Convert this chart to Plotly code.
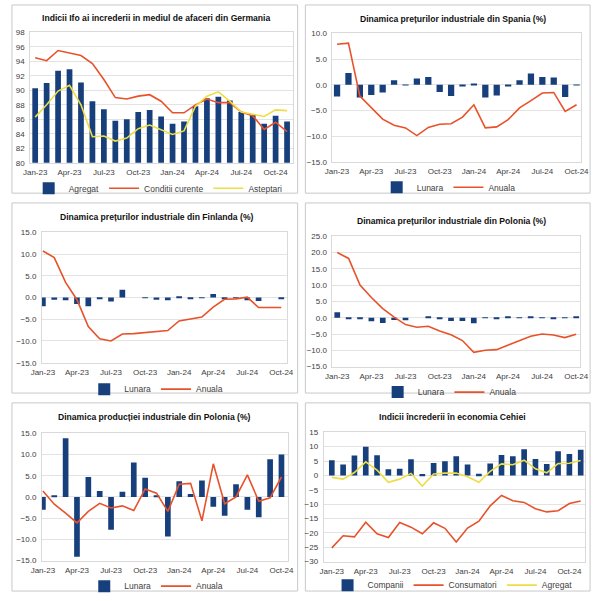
import plotly.graph_objects as go

# ---------------- data ----------------
months = ["Jan-23", "Feb-23", "Mar-23", "Apr-23", "May-23", "Jun-23", "Jul-23", "Aug-23",
          "Sep-23", "Oct-23", "Nov-23", "Dec-23", "Jan-24", "Feb-24", "Mar-24", "Apr-24",
          "May-24", "Jun-24", "Jul-24", "Aug-24", "Sep-24", "Oct-24", "Nov-24"]
tick_months = ["Jan-23", "Apr-23", "Jul-23", "Oct-23", "Jan-24", "Apr-24", "Jul-24", "Oct-24"]

# Germany Ifo (Jan-23 .. Nov-24)
de_agregat = [90.3, 91.0, 92.7, 92.9, 91.1, 88.5, 87.4, 85.8, 86.0, 87.0, 87.3, 86.4,
              85.4, 85.7, 87.8, 88.9, 89.1, 88.6, 87.0, 86.6, 85.4, 86.5, 85.7]
de_conditii = [94.5, 94.1, 95.5, 95.1, 94.8, 93.7, 91.5, 89.0, 88.8, 89.2, 89.4, 88.5,
               86.9, 86.9, 88.0, 88.8, 88.3, 88.3, 87.0, 86.5, 84.6, 85.6, 84.3]
de_asteptari = [86.3, 88.0, 89.9, 90.7, 88.0, 83.6, 83.7, 83.0, 83.4, 84.7, 85.2, 84.5,
                83.9, 84.4, 87.8, 89.2, 89.8, 88.5, 87.0, 86.7, 86.4, 87.3, 87.2]

# Spain PPI (Jan-23 .. Oct-24)
es_lunara = [-2.3, 2.3, -2.5, -2.0, -1.5, 0.9, -0.1, 1.2, 1.5, -1.4, -2.2, -0.2,
             0.1, -2.5, -2.1, -0.2, 0.9, 2.2, 1.5, 1.4, -2.4, -0.1]
es_anuala = [7.9, 8.1, -2.2, -4.5, -6.7, -7.9, -8.4, -9.9, -8.3, -7.7, -7.6, -6.3,
             -3.9, -8.4, -8.2, -6.8, -4.5, -3.1, -1.6, -1.5, -5.2, -3.9]

# Finland PPI (Jan-23 .. Oct-24)
fi_lunara = [-2.0, -0.5, -0.6, -1.5, -2.0, -0.2, -0.9, 1.8, 0.0, -0.1, -0.5, -0.6,
             0.3, -0.2, -0.1, 0.8, -0.4, -0.1, -0.6, -0.8, 0.0, -0.2]
fi_anuala = [10.7, 9.2, 3.5, -0.5, -6.7, -9.5, -10.0, -8.4, -8.3, -8.1, -7.8, -7.6,
             -5.4, -5.0, -4.5, -2.2, -0.4, -0.3, 0.1, -2.3, -2.3, -2.3]

# Poland PPI (Jan-23 .. Oct-24)
pl_ppi_lunara = [1.7, -0.4, -0.5, -1.1, -1.6, -0.7, -0.8, 0.0, 0.2, -0.4, -1.0, -1.0,
                 -1.7, 0.1, -0.4, 0.2, -0.1, 0.3, -0.1, -0.3, -0.1, 0.3]
pl_ppi_anuala = [20.0, 18.2, 10.0, 6.2, 2.8, 0.2, -2.1, -2.9, -2.6, -4.1, -5.2, -7.0,
                 -10.6, -10.0, -9.8, -8.5, -7.0, -5.7, -5.0, -5.3, -6.1, -5.1]

# Poland industrial production (Jan-23 .. Oct-24)
pl_ip_lunara = [-3.0, 0.4, 13.8, -14.1, 4.7, 1.4, -7.7, 1.2, 8.1, 4.5, 0.2, -9.3,
                3.7, 0.7, 3.9, -2.3, -4.4, 3.0, -3.0, -4.8, 8.9, 10.0]
pl_ip_anuala = [1.4, -1.7, -3.8, -6.1, -3.4, -1.5, -2.6, -2.1, -3.2, 1.9, 0.9, -3.4,
                3.0, 3.2, -5.6, 7.8, -1.6, 0.0, 5.2, -1.0, -0.2, 4.7]

# Czech confidence (Jan-23 .. Nov-24)
cz_companii = [5.3, 3.8, 6.9, 10.0, 7.0, 2.1, 2.3, 5.6, 0.5, 4.3, 4.9, 6.7,
               3.8, 0.6, 4.1, 7.1, 6.7, 9.1, 5.7, 4.0, 8.4, 7.4, 8.9]
cz_consumatori = [-25.2, -21.0, -21.4, -16.3, -20.3, -21.6, -16.4, -18.0, -20.3, -16.5, -18.4, -23.2,
                  -18.3, -15.9, -10.6, -7.0, -8.8, -9.4, -11.6, -12.7, -12.3, -9.8, -8.9]
cz_agregat = [-0.7, -1.3, 1.0, 4.7, 1.8, -2.4, -1.3, 0.7, -3.7, 0.5, 0.8, 0.8,
              -0.5, -2.4, 1.4, 4.0, 3.7, 5.3, 2.3, 0.9, 4.1, 4.2, 5.2]

# ---------------- styles ----------------
W, H = 600, 601
BLUE = "#173F7C"
ORANGE = "#E8522B"
YELLOW = "#EEDD44"
GRID = "#E3E3E3"
TICKC = "#404040"
TICKF = dict(family="Liberation Sans, Arial, sans-serif", size=8, color=TICKC)
TITLEF = dict(family="Liberation Sans, Arial, sans-serif", size=8.6, color="#111111")


def fx(px):
    return px / W


def fy(py):
    return 1 - py / H


panels = [
    dict(n=1, xd=(20, 291), yd=(29, 162), xr=(-0.42, 22.5), yr=(80, 98), dt=2, tf="d",
         title="Indicii Ifo ai increderii in mediul de afaceri din Germania", tp=(150, 14), lp=(152, 188),
         box=(1, 1, 296, 193)),
    dict(n=2, xd=(332, 589), yd=(30, 161), xr=(-0.4, 21.42), yr=(-15, 10), dt=5, tf=".1f",
         title="Dinamica prețurilor industriale din Spania (%)", tp=(456, 15), lp=(452, 187),
         box=(304, 1, 598, 193)),
    dict(n=3, xd=(32, 285), yd=(233, 366), xr=(-0.08, 21.5), yr=(-15, 15), dt=5, tf=".1f",
         title="Dinamica prețurilor industriale din Finlanda (%)", tp=(151, 217), lp=(150, 393),
         box=(1, 203, 296, 397)),
    dict(n=4, xd=(332, 588), yd=(237, 370), xr=(-0.42, 21.37), yr=(-15, 25), dt=5, tf=".1f",
         title="Dinamica prețurilor industriale din Polonia (%)", tp=(455, 221), lp=(453, 396),
         box=(304, 203, 598, 397)),
    dict(n=5, xd=(32, 286), yd=(438, 568), xr=(-0.08, 21.57), yr=(-15, 15), dt=5, tf=".1f",
         title="Dinamica producției industriale din Polonia (%)", tp=(148, 421), lp=(150, 594),
         box=(1, 407, 296, 599)),
    dict(n=6, xd=(323, 593), yd=(437, 569), xr=(-0.71, 22.4), yr=(-30, 15), dt=5, tf="d",
         title="Indicii încrederii în economia Cehiei", tp=(456, 421), lp=(456, 593),
         box=(304, 407, 598, 599)),
]

fig = go.Figure()


def add_bar(n, x, y, name, width=0.5):
    fig.add_trace(go.Bar(x=x, y=y, name=name, marker=dict(color=BLUE, line=dict(width=0)),
                         width=width, xaxis=f"x{n}" if n > 1 else "x",
                         yaxis=f"y{n}" if n > 1 else "y",
                         legend="legend" if n == 1 else f"legend{n}"))


def add_line(n, x, y, name, color, width=1.6):
    fig.add_trace(go.Scatter(x=x, y=y, name=name, mode="lines", line=dict(color=color, width=width),
                             xaxis=f"x{n}" if n > 1 else "x",
                             yaxis=f"y{n}" if n > 1 else "y",
                             legend="legend" if n == 1 else f"legend{n}"))


m22 = months[:22]
add_bar(1, months, de_agregat, "Agregat", 0.5)
add_line(1, months, de_conditii, "Conditii curente", ORANGE)
add_line(1, months, de_asteptari, "Asteptari", YELLOW)

add_bar(2, m22, es_lunara, "Lunara", 0.55)
add_line(2, m22, es_anuala, "Anuala", ORANGE)

add_bar(3, m22, fi_lunara, "Lunara", 0.5)
add_line(3, m22, fi_anuala, "Anuala", ORANGE)

add_bar(4, m22, pl_ppi_lunara, "Lunara", 0.5)
add_line(4, m22, pl_ppi_anuala, "Anuala", ORANGE)

add_bar(5, m22, pl_ip_lunara, "Lunara", 0.5)
add_line(5, m22, pl_ip_anuala, "Anuala", ORANGE)

add_bar(6, months, cz_companii, "Companii", 0.5)
add_line(6, months, cz_consumatori, "Consumatori", ORANGE)
add_line(6, months, cz_agregat, "Agregat", YELLOW)

layout = dict(width=W, height=H, margin=dict(l=0, r=0, t=0, b=0),
              paper_bgcolor="white", plot_bgcolor="white", barmode="overlay",
              showlegend=True, shapes=[], annotations=[])

for p in panels:
    n = p["n"]
    xa = "xaxis" if n == 1 else f"xaxis{n}"
    ya = "yaxis" if n == 1 else f"yaxis{n}"
    xn = "x" if n == 1 else f"x{n}"
    yn = "y" if n == 1 else f"y{n}"
    layout[xa] = dict(domain=[fx(p["xd"][0]), fx(p["xd"][1])], anchor=yn, type="category",
                      categoryorder="array", categoryarray=months,
                      range=list(p["xr"]), tickvals=tick_months, tickfont=TICKF,
                      showgrid=False, showline=True, linecolor="#D9D9D9", mirror=True,
                      ticks="", ticklen=0, tickangle=0, ticklabelstandoff=2, fixedrange=True)
    layout[ya] = dict(domain=[fy(p["yd"][1]), fy(p["yd"][0])], anchor=xn,
                      range=list(p["yr"]), dtick=p["dt"], tick0=p["yr"][0], tickformat=p["tf"],
                      tickfont=TICKF, showgrid=True, gridcolor=GRID, gridwidth=1,
                      zeroline=False, showline=True, linecolor="#D9D9D9", mirror=True,
                      ticks="", ticklabelstandoff=3, fixedrange=True)
    lg = "legend" if n == 1 else f"legend{n}"
    layout[lg] = dict(orientation="h", x=fx(p["lp"][0]), y=fy(p["lp"][1]),
                      xanchor="center", yanchor="middle", bgcolor="rgba(0,0,0,0)",
                      font=dict(family="Liberation Sans, Arial, sans-serif", size=8.5, color=TICKC),
                      itemwidth=30, tracegroupgap=0, traceorder="normal")
    b = p["box"]
    layout["shapes"].append(dict(type="rect", xref="paper", yref="paper",
                                 x0=fx(b[0]), x1=fx(b[2]), y0=fy(b[3]), y1=fy(b[1]),
                                 line=dict(color="#C8C8C8", width=1), layer="below"))
    layout["annotations"].append(dict(text="<b>" + p["title"] + "</b>", xref="paper", yref="paper",
                                      x=fx(p["tp"][0]), y=fy(p["tp"][1]), xanchor="center",
                                      yanchor="middle", showarrow=False, font=TITLEF))

fig.update_layout(**layout)
fig.write_html("out.html", config={"displayModeBar": False},
               post_script="document.body.style.margin='0';document.body.style.padding='0';"
                           "document.body.style.overflow='hidden';")
